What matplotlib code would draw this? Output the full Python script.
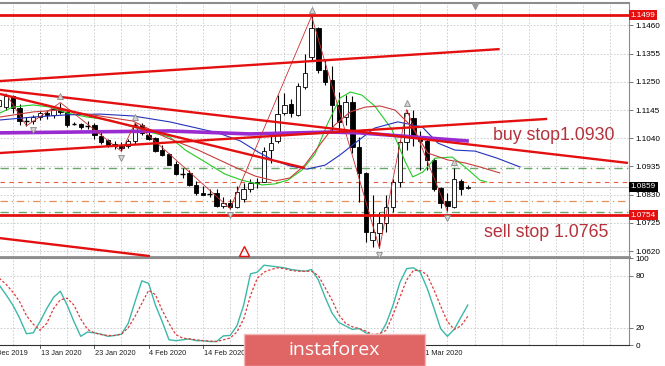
import matplotlib.pyplot as plt
import matplotlib.transforms as mtransforms
from matplotlib.patches import Rectangle

# bar index 0 = 13 Jan 2020 (daily bars, EURUSD)
bar_idx = list(range(-6, 64))
opens = [1.1160, 1.1158, 1.1196, 1.1152, 1.1105, 1.1103, 1.1118, 1.1133, 1.1126, 1.1150,
         1.1136, 1.1095, 1.1092, 1.1085, 1.1089, 1.1050, 1.1032, 1.1017, 1.1015, 1.1010,
         1.1028, 1.1090, 1.1052, 1.1041, 1.0996, 1.0981, 1.0944, 1.0907, 1.0911, 1.0866,
         1.0836, 1.0830, 1.0836, 1.0786, 1.0800, 1.0785, 1.0812, 1.0851, 1.0874, 1.0878,
         1.0996, 1.1030, 1.1134, 1.1168, 1.1127, 1.1231, 1.1343, 1.1451, 1.1294, 1.1257,
         1.1164, 1.1119, 1.1175, 1.1007, 1.0911, 1.0661, 1.0687, 1.0724, 1.0784, 1.0877,
         1.1026, 1.1115, 1.1045, 1.1030, 1.0959, 1.0855, 1.0806, 1.0784, 1.0881, 1.0855]
highs = [1.1190, 1.1206, 1.1202, 1.1166, 1.1118, 1.1125, 1.1140, 1.1146, 1.1157, 1.1173,
         1.1142, 1.1100, 1.1098, 1.1104, 1.1096, 1.1062, 1.1036, 1.1028, 1.1025, 1.1036,
         1.1096, 1.1095, 1.1070, 1.1046, 1.1015, 1.0986, 1.0955, 1.0929, 1.0920, 1.0879,
         1.0863, 1.0850, 1.0851, 1.0822, 1.0815, 1.0863, 1.0872, 1.0890, 1.0892, 1.1006,
         1.1053, 1.1201, 1.1208, 1.1186, 1.1245, 1.1352, 1.1495, 1.1455, 1.1330, 1.1310,
         1.1212, 1.1201, 1.1199, 1.1045, 1.0915, 1.0829, 1.0765, 1.0828, 1.0890, 1.1035,
         1.1147, 1.1144, 1.1068, 1.1038, 1.0968, 1.0860, 1.0835, 1.0929, 1.0890, 1.0865]
lows = [1.1128, 1.1147, 1.1134, 1.1091, 1.1086, 1.1094, 1.1107, 1.1113, 1.1116, 1.1130,
        1.1083, 1.1088, 1.1075, 1.1075, 1.1036, 1.1019, 1.1009, 1.1001, 1.0991, 1.1005,
        1.1020, 1.1053, 1.1035, 1.0989, 1.0975, 1.0941, 1.0904, 1.0892, 1.0862, 1.0829,
        1.0827, 1.0822, 1.0785, 1.0781, 1.0778, 1.0782, 1.0802, 1.0838, 1.0856, 1.0876,
        1.0948, 1.1021, 1.1125, 1.1118, 1.1122, 1.1225, 1.1330, 1.1283, 1.1240, 1.1059,
        1.1063, 1.1090, 1.0985, 1.0803, 1.0654, 1.0635, 1.0630, 1.0692, 1.0766, 1.0860,
        1.0996, 1.1010, 1.0922, 1.0922, 1.0845, 1.0779, 1.0768, 1.0780, 1.0830, 1.0850]
closes = [1.1182, 1.1196, 1.1152, 1.1105, 1.1103, 1.1120, 1.1134, 1.1127, 1.1150, 1.1136,
          1.1091, 1.1094, 1.1082, 1.1088, 1.1052, 1.1025, 1.1016, 1.1011, 1.1004, 1.1031,
          1.1090, 1.1059, 1.1038, 1.0991, 1.0979, 1.0942, 1.0908, 1.0909, 1.0866, 1.0836,
          1.0829, 1.0832, 1.0788, 1.0800, 1.0785, 1.0840, 1.0851, 1.0873, 1.0878, 1.0993,
          1.1022, 1.1130, 1.1164, 1.1134, 1.1235, 1.1283, 1.1451, 1.1294, 1.1250, 1.1164,
          1.1100, 1.1175, 1.1007, 1.0912, 1.0691, 1.0691, 1.0724, 1.0784, 1.0877, 1.1026,
          1.1134, 1.1045, 1.1030, 1.0959, 1.0851, 1.0799, 1.0788, 1.0888, 1.0851, 1.0859]

# alligator-like moving averages (bar index, price)
lips_x = [-5.9, -4, -1, 1.5, 4, 6.9, 10.3, 13.7, 16.6, 19.1, 21.4, 24.3, 27.2, 29.7, 32.7, 34.6,
          36.5, 38.6, 40.5, 42.4, 44.2, 45.7, 47.4, 49.3, 51.8, 53.8, 54.9, 56.4, 58.2, 60.7,
          62.6, 64.8, 65.8]
lips_y = [1.1134, 1.1156, 1.1164, 1.1156, 1.1134, 1.1119, 1.1108, 1.1082, 1.1060, 1.1045,
          1.0996, 1.0952, 1.0907, 1.0884, 1.0866, 1.0870, 1.0884, 1.0922, 1.0981, 1.1097,
          1.1190, 1.1212, 1.1201, 1.1160, 1.1074, 1.0952, 1.0896, 1.0914, 1.0966, 1.0970,
          1.0933, 1.0884, 1.0877]
jaw_x = [-5.9, -1, 4, 8.8, 13.7, 19.1, 22.4, 26.2, 29.5, 32.1, 34.3, 36.8, 39.3, 42, 44.2,
         46.4, 49.3, 52.7, 56.3, 58.6, 61.1, 64.1, 67.3, 70.7]
jaw_y = [1.1108, 1.1119, 1.1127, 1.1130, 1.1123, 1.1101, 1.1082, 1.1060, 1.1030, 1.0989,
         1.0959, 1.0937, 1.0925, 1.0940, 1.0978, 1.1022, 1.1078, 1.1101, 1.1082, 1.1022,
         1.0996, 1.0992, 1.0966, 1.0933]
teeth_x = [-5.9, -1, 2.9, 8.8, 13.7, 18.4, 23.3, 28.3, 31.7, 34.6, 36.8, 39, 41.2, 43.4, 45.7,
           47.9, 50.1, 52.3, 54.8, 57.1, 60.1, 62.6, 64.8, 67.7]
teeth_y = [1.1119, 1.1138, 1.1145, 1.1123, 1.1104, 1.1045, 1.0996, 1.0937, 1.0899, 1.0881,
           1.0892, 1.0940, 1.1015, 1.1089, 1.1138, 1.1156, 1.1160, 1.1145, 1.1082, 1.0985,
           1.0959, 1.0948, 1.0933, 1.0911]
purple_x = [-5.9, 19.1, 30.9, 42.7, 47.1, 62.9]
purple_y = [1.1060, 1.1067, 1.1056, 1.1063, 1.1060, 1.1030]

# trend lines (start idx, start price, end idx, end price)
trend_lines = [(-5.9, 1.1253, 67.7, 1.1372),
               (-5.9, 1.1220, 86.6, 1.0948),
               (-5.9, 1.1205, 39.0, 1.0929),
               (-5.9, 1.0985, 74.7, 1.1112),
               (-5.9, 1.0668, 16.2, 1.0601)]

zigzag_pivots = [(-5, 'H'), (-2, 'L'), (3, 'H'), (12, 'L'), (14, 'H'), (28, 'L'),
                 (40, 'H'), (50, 'L'), (54, 'H'), (60, 'L')]
fractal_up = [3, 14, 40, 54, 61]
fractal_down = [-1, 12, 28, 50, 60]

level_high = 1.1499
level_low = 1.0754
last_price = 1.0859
green_levels = [1.0928, 1.0764]
orange_levels = [1.0876, 1.0807]
price_ticks = [1.1460, 1.1355, 1.1250, 1.1145, 1.1040, 1.0935, 1.0830, 1.0725, 1.0620]

stoch_main = [69, 58, 46, 31, 13, 14, 27, 42, 55, 62, 46, 27, 10, 15, 14, 12.5, 10, 11, 12.5, 25,
              50, 74, 71, 46, 27, 6, 5, 6, 7, 5, 5, 4, 4, 10.5, 11, 22, 46, 82, 84, 92,
              91, 90, 89, 87, 86, 85, 87, 75, 55, 37, 26, 22, 18, 19, 14, 11, 11, 25, 46, 72,
              88, 89, 84, 66, 43, 19, 10, 18, 32, 46]
stoch_signal = [77, 70, 61, 50, 34, 24, 17, 25, 42, 52, 54, 46, 30, 18, 14, 12, 11, 11, 12.5, 20,
                33, 48, 63, 58, 40, 25, 12, 8, 7, 6, 5, 4.5, 4, 6, 8, 15, 30, 57, 77, 84,
                87, 89, 88, 86, 85, 85, 85, 80, 66, 52, 35, 25, 21, 19, 16, 12, 13, 17, 35, 55,
                75, 86, 86, 81, 64, 45, 27, 18, 22, 33]

# labels hidden under the watermark (26 Feb, 9 Mar, 19 Mar) are left out
date_idx = [-8, 0, 8, 16, 24, 56]
date_labels = ['31 Dec 2019', '13 Jan 2020', '23 Jan 2020', '4 Feb 2020', '14 Feb 2020',
               '31 Mar 2020']

W, H = 665, 366
fig = plt.figure(figsize=(W / 100, H / 100), dpi=100)
fig.patch.set_facecolor('white')
ax1 = fig.add_axes([0, 109 / H, 629 / W, 254 / H])
ax2 = fig.add_axes([0, 21 / H, 629 / W, 87 / H])
xlim = (-5.89, 86.75)
grid_color = '#c8c8c8'
lab_font = 'Liberation Sans'

for ax in (ax1, ax2):
    ax.set_xlim(*xlim)
    ax.set_facecolor('white')
    ax.spines['left'].set_visible(False)
    for s in ('top', 'right', 'bottom'):
        ax.spines[s].set_color('#8c8c8c')
    ax.set_xticks([])
    for g in range(-4, 88, 4):
        ax.axvline(g, color=grid_color, lw=0.6, ls=(0, (2, 2)), zorder=0)
ax1.spines['top'].set_linewidth(1.5)
ax1.spines['bottom'].set_linewidth(2)
ax2.spines['bottom'].set_color('#303030')

ax1.set_ylim(1.05977, 1.15437)
ax1.yaxis.tick_right()
ax1.set_yticks(price_ticks)
ax1.set_yticklabels(['%.4f' % p for p in price_ticks], fontsize=5.9, family=lab_font)
ax1.tick_params(axis='y', length=3, width=0.6, color='#606060', pad=1.5)
for p in price_ticks:
    ax1.axhline(p, color=grid_color, lw=0.6, ls=(0, (2, 2)), zorder=0)

# horizontal levels
ax1.axhline(last_price, color='#c0c0c0', lw=0.8, zorder=1)
for p in green_levels:
    ax1.axhline(p, color='#6aa86a', lw=1.0, ls=(0, (6, 3, 1, 3)), zorder=1)
ax1.axhline(orange_levels[0], color='#e06040', lw=0.8, ls=(0, (4, 4)), zorder=1)
ax1.axhline(orange_levels[1], color='#e8905a', lw=0.9, ls=(0, (6, 3, 1, 3)), zorder=1)

# candles
for i, o, hi, lo, c in zip(bar_idx, opens, highs, lows, closes):
    ax1.vlines(i, lo, hi, color='black', lw=0.8, zorder=3)
    if abs(c - o) < 0.0004:
        ax1.hlines((o + c) / 2, i - 0.33, i + 0.33, color='black', lw=1.0, zorder=3)
    else:
        face = 'white' if c > o else 'black'
        ax1.bar(i, abs(c - o), bottom=min(o, c), width=0.65, color=face,
                edgecolor='black', lw=0.6, zorder=3)

# indicators
ax1.plot(lips_x, lips_y, color='#22cc22', lw=0.8, zorder=4)
ax1.plot(jaw_x, jaw_y, color='#2233bb', lw=0.8, zorder=4)
ax1.plot(teeth_x, teeth_y, color='#c83c3c', lw=0.8, zorder=4)
ax1.plot(purple_x, purple_y, color='#9a2bd0', lw=2.6, zorder=4)

zz_x = [i for i, k in zigzag_pivots]
zz_y = [highs[bar_idx.index(i)] if k == 'H' else lows[bar_idx.index(i)] for i, k in zigzag_pivots]
ax1.plot(zz_x, zz_y, color='#cc3030', lw=0.6, zorder=4)

for x0, y0, x1, y1 in trend_lines:
    ax1.plot([x0, x1], [y0, y1], color='#e41010', lw=1.7, zorder=5, solid_capstyle='butt')
ax1.axhline(level_high, color='#e41010', lw=2.0, zorder=5)
ax1.axhline(level_low, color='#e41010', lw=2.0, zorder=5)

ax1.plot(fractal_up, [highs[bar_idx.index(i)] + 0.0024 for i in fractal_up], ls='none',
         marker='^', ms=5, mfc='#d4d4d4', mec='#8a8a8a', mew=0.6, zorder=6)
ax1.plot(fractal_down, [lows[bar_idx.index(i)] - 0.0024 for i in fractal_down], ls='none',
         marker='v', ms=5, mfc='#d4d4d4', mec='#8a8a8a', mew=0.6, zorder=6)

trans1 = mtransforms.blended_transform_factory(ax1.transData, ax1.transAxes)
ax1.plot([bar_idx[-1] + 1], [0.99], transform=trans1, marker='v', ms=5, color='#9a9a9a',
         clip_on=False, zorder=6)
ax1.plot([30], [0.025], transform=trans1, marker='^', ms=7, mfc='none', mec='#e41010',
         mew=1.0, clip_on=False, zorder=6)

ax1.text(0.784, 0.48, 'buy stop1.0930', transform=ax1.transAxes, fontsize=12.8,
         family=lab_font, color='#b4323c', va='center', ha='left', zorder=7)
ax1.text(0.769, 0.095, 'sell stop 1.0765', transform=ax1.transAxes, fontsize=12.8,
         family=lab_font, color='#b4323c', va='center', ha='left', zorder=7)

trans_r = mtransforms.blended_transform_factory(ax1.transAxes, ax1.transData)
for val, bg in ((level_high, '#e41010'), (last_price, 'black'), (level_low, '#e41010')):
    ax1.text(1.003, val, '%.4f' % val, transform=trans_r, fontsize=5.9, family=lab_font,
             color='white', va='center', ha='left', clip_on=False, zorder=8,
             bbox=dict(boxstyle='square,pad=0.2', fc=bg, ec='none'))

# stochastic panel
ax2.set_ylim(0, 100.3)
ax2.yaxis.tick_right()
ax2.set_yticks([0, 20, 80, 100])
ax2.set_yticklabels(['0', '20', '80', '100'], fontsize=5.9, family=lab_font)
ax2.tick_params(axis='y', length=3, width=0.6, color='#606060', pad=1.5)
for v in (20, 80):
    ax2.axhline(v, color=grid_color, lw=0.6, ls=(0, (2, 2)), zorder=0)
ax2.plot(bar_idx, stoch_main, color='#3cb8a8', lw=1.0, zorder=3)
ax2.plot(bar_idx, stoch_signal, color='#e03a3a', lw=0.9, ls=(0, (2, 1.5)), zorder=3)

trans2 = mtransforms.blended_transform_factory(ax2.transData, ax2.transAxes)
for i, lab in zip(date_idx, date_labels):
    ax2.plot([i, i], [0, -0.04], transform=trans2, color='#404040', lw=0.6, clip_on=False)
    ax2.text(i + 0.1, -0.1, lab, transform=trans2, fontsize=5.3, family=lab_font,
             color='#202020', ha='left', va='center', clip_on=False)

# watermark box
fig.add_artist(Rectangle((244 / W, 0), 181 / W, 32 / H, transform=fig.transFigure,
                         facecolor='#e06666', edgecolor='#f2b8b8', lw=1.0, zorder=20))
fig.text(334 / W, 16 / H, 'instaforex', fontsize=14, family='Open Sans', color='white',
         ha='center', va='center', zorder=21)

fig.savefig('out.png', dpi=100)
